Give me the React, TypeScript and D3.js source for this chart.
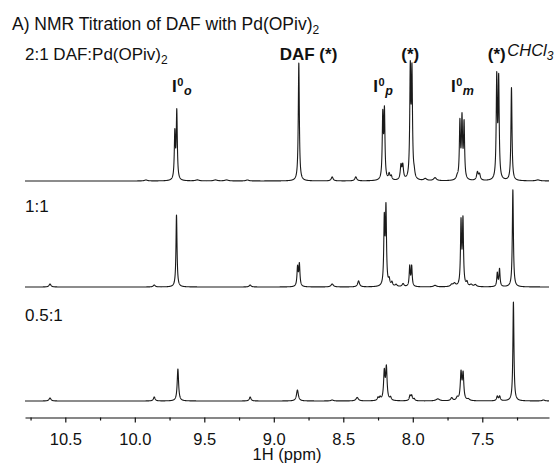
import React, { useEffect, useRef } from "react";
import * as d3 from "d3";

const W = 557;
const H = 464;

// peaks: [ppm, intensity, half width (ppm, optional)]
const peaks2to1: number[][] = [
  [9.92, 1, 0.012], [9.55, 1, 0.015], [9.42, 1, 0.015], [9.34, 1, 0.015], [9.19, 1, 0.012],
  [9.712, 46], [9.698, 68],
  [8.82, 118],
  [8.58, 4, 0.008], [8.41, 4, 0.008],
  [8.216, 63], [8.204, 67],
  [8.17, 6, 0.006], [8.155, 4, 0.006],
  [8.085, 14, 0.006], [8.072, 14, 0.006],
  [8.018, 107], [8.006, 104],
  [7.99, 5, 0.006],
  [7.91, 2, 0.012], [7.84, 3, 0.012],
  [7.68, 3, 0.008],
  [7.661, 56], [7.646, 59], [7.631, 55],
  [7.535, 8, 0.007], [7.52, 6, 0.007],
  [7.396, 100], [7.382, 98],
  [7.29, 93],
  [7.1, 1, 0.015],
];

const peaks1to1: number[][] = [
  [10.61, 3, 0.008],
  [9.86, 2, 0.008],
  [9.70, 72],
  [9.17, 2, 0.008],
  [8.829, 19, 0.005], [8.816, 22, 0.005],
  [8.58, 3, 0.01],
  [8.39, 6, 0.008],
  [8.205, 65], [8.193, 76],
  [8.17, 6, 0.006], [8.15, 4, 0.006], [8.12, 2, 0.008], [8.07, 3, 0.008],
  [8.022, 20], [8.008, 20],
  [7.84, 1.5, 0.012],
  [7.72, 2, 0.01], [7.70, 3, 0.01],
  [7.653, 63], [7.639, 65],
  [7.61, 4, 0.006], [7.58, 2, 0.01], [7.55, 2, 0.01],
  [7.392, 13.5], [7.376, 17.5],
  [7.28, 97],
];

const peaks05to1: number[][] = [
  [10.61, 3, 0.008],
  [9.86, 4, 0.007],
  [9.69, 32, 0.006],
  [9.17, 4, 0.007],
  [8.83, 11, 0.008],
  [8.58, 1, 0.01],
  [8.40, 3.5, 0.01],
  [8.25, 3, 0.006], [8.235, 3, 0.006],
  [8.205, 28, 0.006], [8.19, 32, 0.006],
  [8.16, 3, 0.006],
  [8.02, 5, 0.006], [8.008, 5, 0.006], [7.99, 2, 0.006],
  [7.82, 2, 0.015],
  [7.72, 3, 0.008], [7.68, 3, 0.008],
  [7.653, 27, 0.006], [7.638, 26, 0.006],
  [7.6, 1.5, 0.01],
  [7.392, 4.5, 0.006], [7.375, 4.5, 0.006],
  [7.276, 99],
  [7.06, 1, 0.01],
];

const spectra = [peaks2to1, peaks1to1, peaks05to1];
const sampleLabels = ["2:1 DAF:Pd(OPiv)", "1:1", "0.5:1"];
const majorTicks = [10.5, 10.0, 9.5, 9.0, 8.5, 8.0, 7.5];
const minorTicks = [10.75, 10.25, 9.75, 9.25, 8.75, 8.25, 7.75, 7.25];

const iLabels = [
  { ppm: 9.732, sub: "o" },
  { ppm: 8.284, sub: "p" },
  { ppm: 7.725, sub: "m" },
];
const starLabels = [
  { ppm: 8.543, text: "DAF (*)", anchor: "end" },
  { ppm: 8.018, text: "(*)", anchor: "middle" },
  { ppm: 7.396, text: "(*)", anchor: "middle" },
];

const FONT = "'Liberation Sans', Arial, Helvetica, sans-serif";

const App = () => {
  const ref = useRef<SVGSVGElement>(null);

  useEffect(() => {
    const svg = d3.select(ref.current);
    svg.selectAll("*").remove();
    svg.attr("font-family", FONT);

    const x = d3.scaleLinear().domain([10.79, 7.02]).range([25, 549]);
    const baselines = [181, 287, 401];

    const step = 0.0005;
    const [lo, hi] = [7.02, 10.79];
    const grid = d3.range(0, Math.round((hi - lo) / step) + 1).map((i) => hi - i * step);

    spectra.forEach((peaks, k) => {
      const y = d3.scaleLinear().domain([0, 100]).range([baselines[k], baselines[k] - 100]);
      const pts = grid.map((p) => {
        let v = 0;
        peaks.forEach(([p0, h, w]) => {
          const hw = w || 0.0045;
          const d = (p - p0) / hw;
          v += h / (1 + d * d);
        });
        return [p, v];
      });
      const line = d3.line<number[]>().x((d) => x(d[0])).y((d) => y(d[1]));
      svg.append("path")
        .attr("d", line(pts))
        .attr("fill", "none")
        .attr("stroke", "#1a1a1a")
        .attr("stroke-width", 1.1)
        .attr("stroke-linejoin", "round");
    });

    // axis
    const axisG = svg.append("g").attr("transform", "translate(0,417.5)");
    axisG.call(
      d3.axisBottom(x).tickValues(majorTicks).tickSize(5).tickSizeOuter(0).tickPadding(11)
        .tickFormat(d3.format(".1f"))
    );
    axisG.select(".domain").attr("stroke", "#111").attr("stroke-width", 1.2);
    axisG.selectAll("line").attr("stroke", "#111").attr("stroke-width", 1.2);
    axisG.selectAll("text").attr("font-size", 16.5).attr("font-family", FONT).attr("fill", "#111");
    const minorG = svg.append("g").attr("transform", "translate(0,417.5)");
    minorG.call(d3.axisBottom(x).tickValues(minorTicks).tickSize(3).tickSizeOuter(0).tickFormat(() => ""));
    minorG.select(".domain").remove();
    minorG.selectAll("line").attr("stroke", "#111").attr("stroke-width", 1.2);

    svg.append("text")
      .attr("x", (x.range()[0] + x.range()[1]) / 2)
      .attr("y", 460)
      .attr("text-anchor", "middle")
      .attr("font-size", 16.5)
      .attr("fill", "#111")
      .text("1H (ppm)");

    // title
    const title = svg.append("text").attr("x", 12).attr("y", 30).attr("font-size", 17.5).attr("fill", "#111");
    title.append("tspan").text("A) NMR Titration of DAF with Pd(OPiv)");
    title.append("tspan").attr("font-size", 12).attr("dy", 4).text("2");

    // sample labels
    const labelY = [60, 212, 320.5];
    sampleLabels.forEach((s, i) => {
      const t = svg.append("text").attr("x", 25).attr("y", labelY[i]).attr("font-size", 17).attr("fill", "#111");
      t.append("tspan").text(s);
      if (i === 0) t.append("tspan").attr("font-size", 12).attr("dy", 4).text("2");
    });

    // peak labels
    iLabels.forEach((l) => {
      const t = svg.append("text").attr("x", x(l.ppm)).attr("y", 92)
        .attr("font-size", 17).attr("font-weight", "bold").attr("fill", "#111");
      t.append("tspan").text("I");
      t.append("tspan").attr("font-size", 11).attr("dy", -6).attr("dx", 0.5).text("0");
      t.append("tspan").attr("font-size", 12.5).attr("font-style", "italic").attr("dy", 9).attr("dx", 0.5).text(l.sub);
    });
    starLabels.forEach((l) => {
      svg.append("text").attr("x", x(l.ppm)).attr("y", 60)
        .attr("text-anchor", l.anchor)
        .attr("font-size", 17).attr("font-weight", "bold").attr("fill", "#111")
        .text(l.text);
    });
    const chcl = svg.append("text").attr("x", x(7.32)).attr("y", 56)
      .attr("font-size", 16.5).attr("font-style", "italic").attr("fill", "#111");
    chcl.append("tspan").text("CHCl");
    chcl.append("tspan").attr("font-size", 12).attr("dy", 4).text("3");
  }, []);

  return (
    <svg ref={ref} width={W} height={H}
      style={{ position: "absolute", left: 0, top: 0, background: "#fff" }} />
  );
};

export default App;
